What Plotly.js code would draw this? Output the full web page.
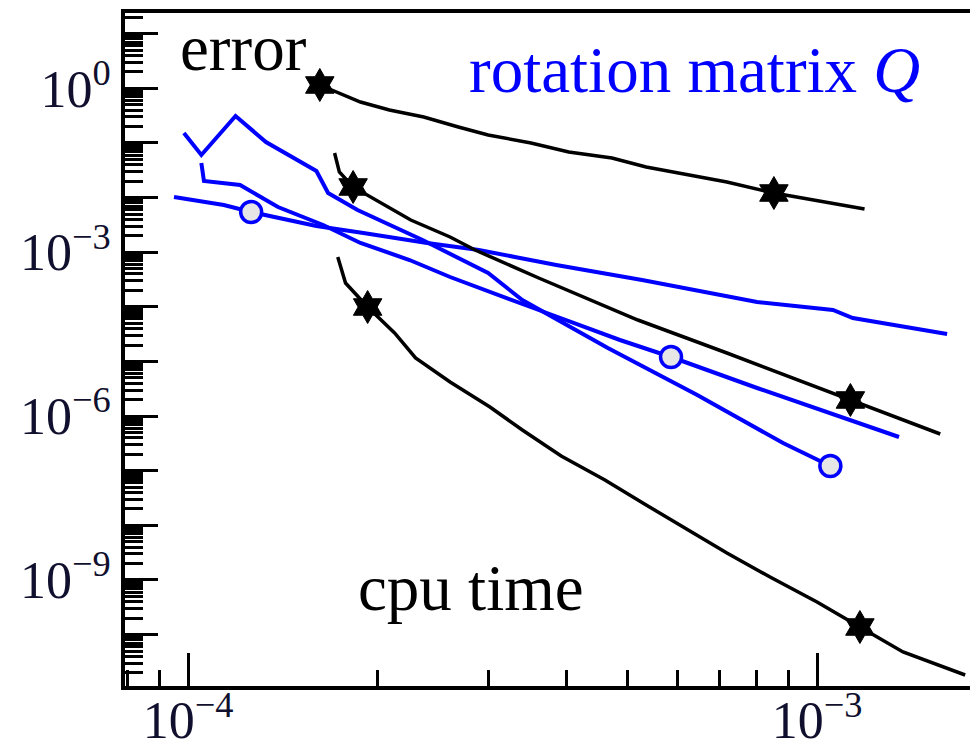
<!DOCTYPE html>
<html>
<head>
<meta charset="utf-8">
<script src="https://cdn.plot.ly/plotly-3.0.1.min.js"></script>
<style>html,body{margin:0;padding:0;background:#fff;}#chart{width:970px;height:748px;}</style>
</head>
<body>
<div id="chart"></div>
<script>
// ---- data (cpu time vs error) ----
// black curves (hexagram markers)
const k1_x = [1.62e-4, 1.88e-4, 2.09e-4, 2.37e-4, 2.69e-4, 3.00e-4, 3.51e-4, 4.03e-4, 4.72e-4, 5.35e-4, 7.19e-4, 8.54e-4, 1.19e-3];
const k1_y = [1.15, 0.561, 0.401, 0.298, 0.196, 0.140, 0.0997, 0.0682, 0.0530, 0.03625, 0.01927, 0.01212, 0.006175];
const k1_mx = [1.62e-4, 8.54e-4];
const k1_my = [1.15, 0.01212];

const k2_x = [1.71e-4, 1.74e-4, 1.83e-4, 2.26e-4, 2.61e-4, 2.86e-4, 3.61e-4, 5.19e-4, 7.19e-4, 1.13e-3, 1.57e-3];
const k2_y = [0.06541, 0.02937, 0.01561, 0.003883, 0.001897, 0.001097, 3.370e-4, 5.738e-5, 1.428e-5, 1.970e-6, 4.699e-7];
const k2_mx = [1.83e-4, 1.13e-3];
const k2_my = [0.01561, 1.970e-6];

const k3_x = [1.73e-4, 1.78e-4, 1.93e-4, 2.13e-4, 2.30e-4, 2.61e-4, 3.02e-4, 3.40e-4, 3.92e-4, 4.60e-4, 5.35e-4, 7.19e-4, 8.42e-4, 1.00e-3, 1.17e-3, 1.37e-3, 1.72e-3];
const k3_y = [8.163e-4, 2.729e-4, 9.924e-5, 3.318e-5, 1.157e-5, 4.206e-6, 1.466e-6, 5.562e-7, 1.860e-7, 6.761e-8, 2.357e-8, 3.116e-9, 1.133e-9, 3.95e-10, 1.377e-10, 4.80e-11, 1.822e-11];
const k3_mx = [1.93e-4, 1.17e-3];
const k3_my = [9.924e-5, 1.377e-10];

// blue curves (rotation matrix Q, circle markers)
const ba_x = [9.50e-5, 1.14e-4, 1.26e-4, 1.60e-4, 1.90e-4, 2.40e-4, 2.90e-4, 3.85e-4, 5.27e-4, 8.03e-4, 1.06e-3, 1.14e-3, 1.61e-3];
const ba_y = [0.01024, 0.007307, 0.005441, 0.003015, 0.002245, 0.001473, 0.001097, 5.826e-4, 3.097e-4, 1.225e-4, 8.746e-5, 6.243e-5, 3.180e-5];
const ba_mx = [1.26e-4];
const ba_my = [0.005441];

const bb_x = [1.05e-4, 1.06e-4, 1.21e-4, 1.39e-4, 1.64e-4, 1.88e-4, 2.25e-4, 2.61e-4, 3.61e-4, 4.86e-4, 5.86e-4, 8.03e-4, 1.35e-3];
const bb_y = [0.04292, 0.02010, 0.01698, 0.006719, 0.003146, 0.001473, 7.194e-4, 3.514e-4, 8.746e-5, 2.470e-5, 1.206e-5, 3.266e-6, 4.141e-7];
const bb_mx = [5.86e-4];
const bb_my = [1.206e-5];

const bc_x = [9.85e-5, 1.05e-4, 1.19e-4, 1.33e-4, 1.60e-4, 1.67e-4, 1.86e-4, 2.13e-4, 2.36e-4, 3.00e-4, 3.40e-4, 4.65e-4, 6.45e-4, 8.83e-4, 1.05e-3];
const bc_y = [0.1520, 0.06012, 0.3111, 0.1040, 0.03063, 0.01212, 0.005921, 0.002891, 0.001671, 4.160e-4, 1.333e-4, 1.763e-5, 2.431e-6, 3.215e-7, 1.219e-7];
const bc_mx = [1.05e-3];
const bc_my = [1.219e-7];

// tick labels
const xTickVals = [1e-4, 1e-3];
const xTickText = ['10<sup>\u22124</sup>', '10<sup>\u22123</sup>'];
const yLabelExp = [0, -3, -6, -9];

// ---- build ----
const BLUE = '#0000ff';
const BLACK = '#000000';
function line(x, y, color, w) {
  return {x: x, y: y, type: 'scatter', mode: 'lines', line: {color: color, width: w}, hoverinfo: 'skip', showlegend: false};
}
function hexM(x, y) {
  return {x: x, y: y, type: 'scatter', mode: 'markers', showlegend: false, hoverinfo: 'skip',
    marker: {symbol: 'hexagram', size: 25, color: BLACK, line: {color: BLACK, width: 1}}};
}
function circM(x, y) {
  return {x: x, y: y, type: 'scatter', mode: 'markers', showlegend: false, hoverinfo: 'skip',
    marker: {symbol: 'circle', size: 21, color: '#e6e6e6', line: {color: BLUE, width: 3.5}}};
}

const traces = [
  line(ba_x, ba_y, BLUE, 4), line(bb_x, bb_y, BLUE, 4), line(bc_x, bc_y, BLUE, 4),
  line(k1_x, k1_y, BLACK, 3.5), line(k2_x, k2_y, BLACK, 3.5), line(k3_x, k3_y, BLACK, 3.5),
  circM(ba_mx, ba_my), circM(bb_mx, bb_my), circM(bc_mx, bc_my),
  hexM(k1_mx, k1_my), hexM(k2_mx, k2_my), hexM(k3_mx, k3_my)
];

// y major ticks every decade, labels every third
const yTickVals = [], yTickText = [];
for (let e = -10; e <= 1; e++) {
  yTickVals.push(Math.pow(10, e));
  yTickText.push(yLabelExp.indexOf(e) >= 0 ? ('10<sup>' + (e < 0 ? '\u2212' + (-e) : e) + '</sup>') : '');
}
const yMinor = [];
for (let e = -12; e <= 1; e++) for (let m = 2; m <= 9; m++) yMinor.push(m * Math.pow(10, e));
const xMinor = [];
for (let e = -5; e <= -3; e++) for (let m = 2; m <= 9; m++) xMinor.push(m * Math.pow(10, e));

const FONT = 'Liberation Serif, Times New Roman, serif';
const TICKCOL = '#10102e';

const layout = {
  width: 970, height: 748,
  margin: {l: 125, r: 0, t: 13, b: 62, pad: 0},
  paper_bgcolor: '#ffffff', plot_bgcolor: '#ffffff',
  showlegend: false,
  xaxis: {
    type: 'log', range: [-4.1002, -2.7568],
    showgrid: false, zeroline: false,
    showline: true, linecolor: BLACK, linewidth: 4, mirror: true,
    ticks: 'inside', ticklen: 33, tickwidth: 3, tickcolor: BLACK,
    tickmode: 'array', tickvals: xTickVals, ticktext: xTickText,
    ticklabelstandoff: -14,
    tickfont: {family: FONT, size: 52, color: TICKCOL},
    minor: {ticks: 'inside', ticklen: 16, tickwidth: 3, tickcolor: BLACK, tickmode: 'array', tickvals: xMinor, showgrid: false}
  },
  yaxis: {
    type: 'log', range: [-10.941, 1.3784],
    showgrid: false, zeroline: false,
    showline: true, linecolor: BLACK, linewidth: 4, mirror: false,
    ticks: 'inside', ticklen: 33, tickwidth: 3, tickcolor: BLACK,
    tickmode: 'array', tickvals: yTickVals, ticktext: yTickText,
    tickfont: {family: FONT, size: 52, color: TICKCOL},
    minor: {ticks: 'inside', ticklen: 18, tickwidth: 3, tickcolor: BLACK, tickmode: 'array', tickvals: yMinor, showgrid: false}
  },
  annotations: [
    {xref: 'paper', yref: 'paper', x: 0.0627, y: 0.9487, xanchor: 'left', yanchor: 'middle', showarrow: false,
     text: 'error', font: {family: FONT, size: 65, color: BLACK}},
    {xref: 'paper', yref: 'paper', x: 0.4047, y: 0.9146, xanchor: 'left', yanchor: 'middle', showarrow: false,
     text: 'rotation matrix <i>Q</i>', font: {family: FONT, size: 65, color: BLUE}},
    {xref: 'paper', yref: 'paper', x: 0.2734, y: 0.1449, xanchor: 'left', yanchor: 'middle', showarrow: false,
     text: 'cpu time', font: {family: FONT, size: 65, color: BLACK}}
  ]
};

Plotly.newPlot('chart', traces, layout, {displayModeBar: false, staticPlot: true});
</script>
</body>
</html>
